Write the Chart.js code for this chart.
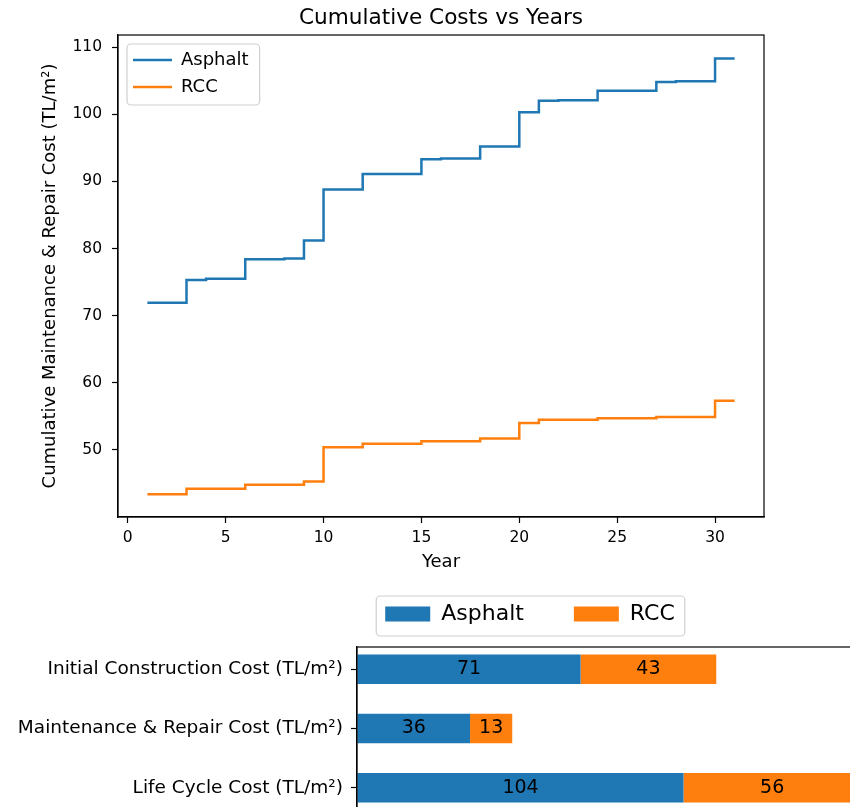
<!DOCTYPE html>
<html>
<head>
<meta charset="utf-8">
<script src="https://cdn.jsdelivr.net/npm/chart.js@4.4.1/dist/chart.umd.min.js"></script>
<style>
  html, body { margin: 0; padding: 0; background: #fff; }
  #page { position: relative; width: 850px; height: 807px; overflow: hidden; }
  #stepChart { position: absolute; left: 0; top: 0; }
  #barChart { position: absolute; left: 0; top: 553px; }
</style>
</head>
<body>
<div id="page">
  <canvas id="stepChart" width="850" height="580"></canvas>
  <canvas id="barChart" width="947" height="290"></canvas>
</div>
<script>
// --- data: cumulative cost per year
const years = [1, 2, 3, 4, 5, 6, 7, 8, 9, 10, 11, 12, 13, 14, 15, 16,
  17, 18, 19, 20, 21, 22, 23, 24, 25, 26, 27, 28, 29, 30, 31];
const asphaltCumulative = [71.9, 71.9, 75.3, 75.5, 75.5, 78.4, 78.4, 78.5, 81.2, 88.8, 88.8,
  91.1, 91.1, 91.1, 93.3, 93.4, 93.4, 95.2, 95.2, 100.3, 102.0, 102.1, 102.1,
  103.5, 103.5, 103.5, 104.8, 104.9, 104.9, 108.3, 108.3];
const rccCumulative = [43.4, 43.4, 44.2, 44.2, 44.2, 44.8, 44.8, 44.8, 45.3, 50.4, 50.4,
  50.9, 50.9, 50.9, 51.3, 51.3, 51.3, 51.7, 51.7, 54.0, 54.5, 54.5, 54.5,
  54.7, 54.7, 54.7, 54.9, 54.9, 54.9, 57.3, 57.3];
const yearTicks = [0, 5, 10, 15, 20, 25, 30];
const cumulativeTicks = [50, 60, 70, 80, 90, 100, 110];

// --- data: cost breakdown (stacked bars)
const costCategories = [
  "Initial Construction Cost (TL/m²)",
  "Maintenance & Repair Cost (TL/m²)",
  "Life Cycle Cost (TL/m²)"
];
const asphaltCosts = [71.0, 35.9, 103.7];
const rccCosts = [43.1, 13.4, 56.3];
const costTicks = [0, 20, 40, 60, 80, 100, 120, 140, 160];

const BLUE = "#1f77b4";
const ORANGE = "#ff7f0e";

Chart.defaults.font.family = "'DejaVu Sans', sans-serif";
Chart.defaults.color = "#000";

// Black box round the plot area (all four spines)
const axesFrame = {
  id: "axesFrame",
  afterDraw(chart) {
    const { ctx, chartArea: a } = chart;
    ctx.save();
    ctx.strokeStyle = "#000";
    ctx.lineWidth = 1.2;
    ctx.strokeRect(a.left, a.top, a.right - a.left, a.bottom - a.top);
    ctx.restore();
  }
};

// Rounded grey frame behind the legend entries, and where the legend sits
function legendFrame(pad, place) {
  return {
    id: "legendFrame",
    afterLayout(chart) {
      const lg = chart.legend, a = chart.chartArea;
      if (place.inside) {
        lg.left = a.left + place.inside.x;
        lg.top = a.top + place.inside.y;
      }
      if (place.centerX !== undefined) {
        const dx = place.centerX - (lg.left + lg.right) / 2;
        lg.left += dx;
        lg.right += dx;
      }
      if (place.dy) {
        lg.top += place.dy;
        lg.bottom += place.dy;
      }
    },
    beforeDraw(chart) {
      const boxes = chart.legend.legendHitBoxes;
      if (!boxes || !boxes.length) return;
      const left = Math.min(...boxes.map(b => b.left)) - pad.left;
      const right = Math.max(...boxes.map(b => b.left + b.width)) + pad.right;
      const top = Math.min(...boxes.map(b => b.top)) - pad.top;
      const bottom = Math.max(...boxes.map(b => b.top + b.height)) + pad.bottom;
      const ctx = chart.ctx;
      ctx.save();
      ctx.beginPath();
      ctx.roundRect(left, top, right - left, bottom - top, 4);
      ctx.fillStyle = "rgba(255,255,255,0.8)";
      ctx.fill();
      ctx.strokeStyle = "#d0d0d0";
      ctx.lineWidth = 1.2;
      ctx.stroke();
      ctx.restore();
    }
  };
}

// Value written in the middle of each bar segment
const barValueLabels = {
  id: "barValueLabels",
  afterDatasetsDraw(chart) {
    const ctx = chart.ctx;
    ctx.save();
    ctx.font = "19px 'DejaVu Sans'";
    ctx.fillStyle = "#000";
    ctx.textAlign = "center";
    ctx.textBaseline = "middle";
    chart.data.datasets.forEach((ds, i) => {
      chart.getDatasetMeta(i).data.forEach((bar, j) => {
        ctx.fillText(Math.round(ds.data[j].x), (bar.x + bar.base) / 2, bar.y);
      });
    });
    ctx.restore();
  }
};

const tickGrid = { drawOnChartArea: false, tickLength: 6, color: "#000", tickWidth: 1.2, offset: false };
const blackBorder = { color: "#000", width: 1.2 };

// Cumulative costs step chart
new Chart(document.getElementById("stepChart"), {
  type: "line",
  data: {
    labels: years,
    datasets: [
      { label: "Asphalt", data: asphaltCumulative, borderColor: BLUE, backgroundColor: BLUE,
        borderWidth: 2.5, stepped: true, pointRadius: 0 },
      { label: "RCC", data: rccCumulative, borderColor: ORANGE, backgroundColor: ORANGE,
        borderWidth: 2.5, stepped: true, pointRadius: 0 }
    ]
  },
  options: {
    responsive: false,
    animation: false,
    layout: { padding: { left: 0, right: 86, top: 0, bottom: 0 } },
    plugins: {
      title: {
        display: true,
        text: "Cumulative Costs vs Years",
        fullSize: false,
        font: { size: 21.6, weight: "normal" },
        padding: { top: 5.5, bottom: 3.6 }
      },
      legend: {
        position: "chartArea",
        align: "start",
        labels: { usePointStyle: true, pointStyle: "line", pointStyleWidth: 39, padding: 9, font: { size: 18 } }
      },
      tooltip: { enabled: false }
    },
    scales: {
      x: {
        type: "linear",
        min: -0.5,
        max: 32.5,
        afterBuildTicks: s => { s.ticks = yearTicks.map(v => ({ value: v })); },
        afterFit: s => { s.height = 63; },
        ticks: { font: { size: 15.5 }, padding: 6, maxRotation: 0 },
        grid: tickGrid,
        border: blackBorder,
        title: { display: true, text: "Year", font: { size: 18 }, padding: { top: 0, bottom: 7 } }
      },
      y: {
        min: 40.0,
        max: 111.8,
        afterBuildTicks: s => { s.ticks = cumulativeTicks.map(v => ({ value: v })); },
        afterFit: s => { s.width = 118; },
        ticks: { font: { size: 15.5 }, padding: 10 },
        grid: tickGrid,
        border: blackBorder,
        title: {
          display: true,
          text: "Cumulative Maintenance & Repair Cost (TL/m²)",
          font: { size: 18 },
          padding: { top: 40, bottom: 0 }
        }
      }
    }
  },
  plugins: [axesFrame, legendFrame({ left: 6, right: 11, top: 7, bottom: 9 }, { inside: { x: 6, y: 7 } })]
});

// Cost breakdown stacked horizontal bars (cropped at the page edge)
new Chart(document.getElementById("barChart"), {
  type: "bar",
  data: {
    datasets: [
      { label: "Asphalt", data: asphaltCosts.map((v, i) => ({ x: v, y: i })), backgroundColor: BLUE },
      { label: "RCC", data: rccCosts.map((v, i) => ({ x: v, y: i })), backgroundColor: ORANGE }
    ]
  },
  options: {
    indexAxis: "y",
    responsive: false,
    animation: false,
    datasets: { bar: { barPercentage: 0.5, categoryPercentage: 1.0 } },
    layout: { padding: { left: 0, right: 61, top: 12, bottom: 0 } },
    plugins: {
      legend: {
        position: "top",
        labels: { boxWidth: 45, boxHeight: 15, padding: 50, font: { size: 22 } }
      },
      tooltip: { enabled: false }
    },
    scales: {
      x: {
        type: "linear",
        stacked: true,
        min: 0,
        max: 168,
        afterBuildTicks: s => { s.ticks = costTicks.map(v => ({ value: v })); },
        afterFit: s => { s.height = 33; },
        ticks: { font: { size: 18 } },
        grid: tickGrid,
        border: blackBorder
      },
      y: {
        type: "linear",
        stacked: true,
        reverse: true,
        offset: false,
        min: -0.375,
        max: 2.375,
        afterBuildTicks: s => { s.ticks = costCategories.map((c, i) => ({ value: i })); },
        afterFit: s => { s.width = 357; },
        ticks: { callback: v => costCategories[v], font: { size: 18.5 }, padding: 8 },
        grid: tickGrid,
        border: blackBorder
      }
    }
  },
  plugins: [axesFrame, legendFrame({ left: 9, right: 10, top: 7, bottom: 11 }, { centerX: 530, dy: -12 }), barValueLabels]
});
</script>
</body>
</html>
